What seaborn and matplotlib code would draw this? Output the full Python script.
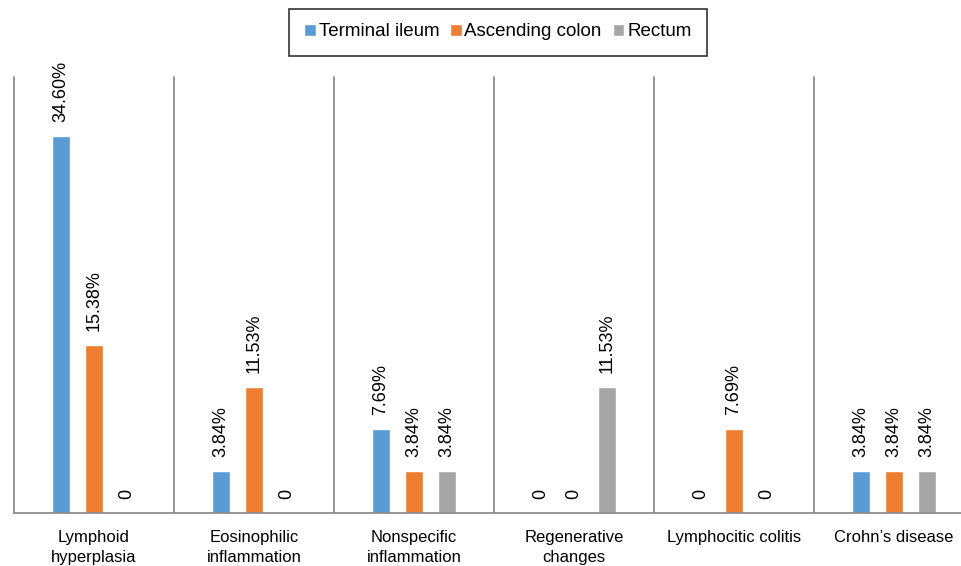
import matplotlib.pyplot as plt
import seaborn as sns
import pandas as pd

categories = ["Lymphoid\nhyperplasia", "Eosinophilic\ninflammation", "Nonspecific\ninflammation",
              "Regenerative\nchanges", "Lymphocitic colitis", "Crohn\u2019s disease"]
sites = ["Terminal ileum", "Ascending colon", "Rectum"]
terminal_ileum = [34.60, 3.84, 7.69, 0, 0, 3.84]
ascending_colon = [15.38, 11.53, 3.84, 0, 7.69, 3.84]
rectum = [0, 0, 3.84, 11.53, 0, 3.84]
colors = ["#5B9BD5", "#ED7D31", "#A5A5A5"]

df = pd.DataFrame({
    "category": categories * 3,
    "site": [s for s in sites for _ in categories],
    "value": terminal_ileum + ascending_colon + rectum,
})

sns.set_style("white", {"text.color": "black", "xtick.color": "black"})
plt.rcParams['font.family'] = ['Liberation Sans', 'DejaVu Sans']

fig = plt.figure(figsize=(9.61, 5.66), dpi=100)
ax = fig.add_axes([14 / 961, 1 - 513 / 566, 960 / 961, (513 - 77) / 566])

sns.barplot(data=df, x="category", y="value", hue="site", palette=colors,
            width=0.62, gap=0.47, ax=ax, legend=True, saturation=1)

for cont in ax.containers:
    labs = [f"{b.get_height():.2f}%" if b.get_height() > 0 else "0" for b in cont]
    ax.bar_label(cont, labels=labs, rotation=90, padding=10, fontsize=13, color="black")

ax.set_xlim(-0.5, 5.5)
ax.set_ylim(0, 40)
for xv in [-0.5, 0.5, 1.5, 2.5, 3.5, 4.5, 5.5]:
    ax.axvline(xv, color="#8c8c8c", lw=1.3, clip_on=False)

for s in ["top", "right", "left"]:
    ax.spines[s].set_visible(False)
ax.spines["bottom"].set_color("#8c8c8c")
ax.spines["bottom"].set_linewidth(1.3)
ax.set_yticks([])
ax.set_xlabel("")
ax.set_ylabel("")
ax.tick_params(axis="x", length=0, pad=12, labelsize=12, labelcolor="black")
for t in ax.get_xticklabels():
    t.set_linespacing(1.45)

leg = ax.legend(loc="center", bbox_to_anchor=(498 / 961, 1 - 32 / 566),
                bbox_transform=fig.transFigure, ncol=3, frameon=True, fancybox=False,
                edgecolor="black", fontsize=13.5, handlelength=0.6, handleheight=0.6,
                handletextpad=0.15, columnspacing=0.6, borderpad=0.8, borderaxespad=0,
                labelcolor="black")
leg.get_frame().set_linewidth(1.2)

fig.savefig("out.png", dpi=100)
